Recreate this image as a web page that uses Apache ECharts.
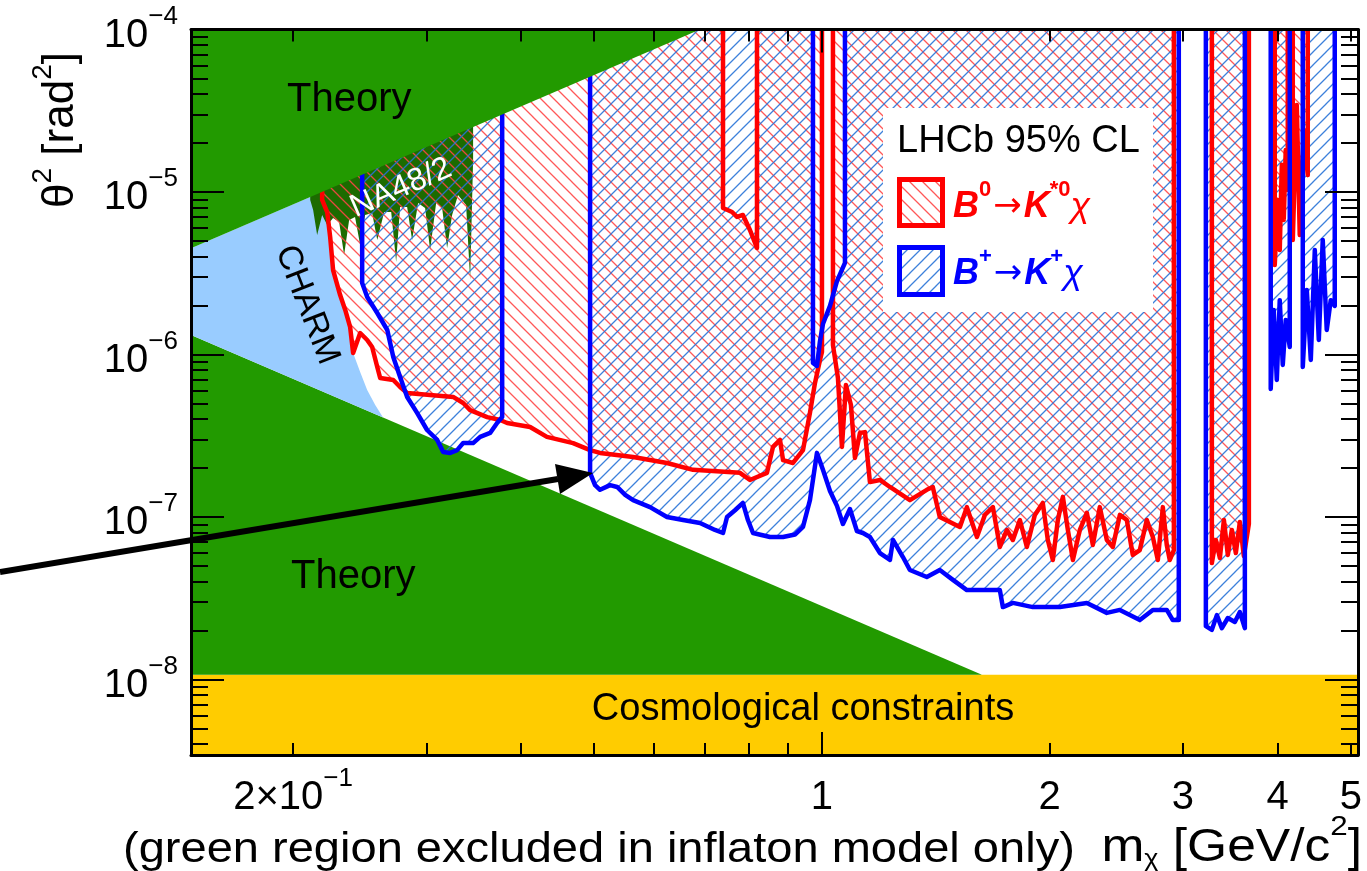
<!DOCTYPE html>
<html>
<head>
<meta charset="utf-8">
<title>LHCb B -> K chi limits</title>
<script src="https://cdn.jsdelivr.net/npm/echarts@6.0.0/dist/echarts.min.js"></script>
<style>
html,body{margin:0;padding:0;background:#ffffff;}
#chart{width:1367px;height:871px;}
</style>
</head>
<body>
<div id="chart"></div>
<script>
// ---------------- axes (m in GeV/c^2, theta^2 in rad^2) ----------------
const X_RANGE = [0.1466, 5.11];
const Y_RANGE = [3.43e-9, 1e-4];
const X_LABEL_VALUES = [0.2, 1, 2, 3, 4, 5];
const X_MAJOR_TICKS = [1];
const X_MINOR_TICKS = [0.2, 0.3, 0.4, 0.5, 0.6, 0.7, 0.8, 0.9, 2, 3, 4, 5];
const Y_LABEL_VALUES = [1e-4, 1e-5, 1e-6, 1e-7, 1e-8];
const Y_MINOR_TICKS = [
  4e-9, 5e-9, 6e-9, 7e-9, 8e-9, 9e-9,
  2e-8, 3e-8, 4e-8, 5e-8, 6e-8, 7e-8, 8e-8, 9e-8,
  2e-7, 3e-7, 4e-7, 5e-7, 6e-7, 7e-7, 8e-7, 9e-7,
  2e-6, 3e-6, 4e-6, 5e-6, 6e-6, 7e-6, 8e-6, 9e-6,
  2e-5, 3e-5, 4e-5, 5e-5, 6e-5, 7e-5, 8e-5, 9e-5
];

// ---------------- regions: [m, theta^2] vertices ----------------
const COSMO_BAND = [[0.1466, 3.43e-9], [5.11, 3.43e-9], [5.11, 1.07e-8], [0.1466, 1.07e-8]];
const THEORY_UPPER = [[0.1466, 4.51e-6], [0.69, 1e-4], [0.1466, 1e-4]];
const THEORY_LOWER = [[0.1466, 1.07e-8], [0.1466, 1.317e-6], [1.627, 1.07e-8]];
const CHARM = [
  [0.1466, 4.51e-6], [0.2159, 9.79e-6], [0.2185, 8.93e-6], [0.2219, 7.53e-6], [0.2239, 5.28e-6],
  [0.2259, 3.31e-6], [0.2308, 2.32e-6], [0.2344, 1.88e-6], [0.2379, 1.48e-6], [0.2401, 1.02e-6],
  [0.2453, 7.80e-7], [0.2506, 6.05e-7], [0.2568, 4.89e-7], [0.2630, 4.09e-7], [0.1466, 1.317e-6]
];
const NA48 = [
  [0.2107, 1e-4], [0.3459, 1e-4], [0.3459, 1.574e-5], [0.3428, 2.87e-6], [0.3386, 8.32e-6],
  [0.3304, 9.58e-6], [0.3245, 7.22e-6], [0.3196, 4.52e-6], [0.3148, 7.97e-6], [0.3091, 8.55e-6],
  [0.3035, 4.39e-6], [0.2989, 7.97e-6], [0.2926, 8.55e-6], [0.2873, 5.07e-6], [0.2830, 8.08e-6],
  [0.2770, 8.08e-6], [0.2737, 3.71e-6], [0.2696, 7.53e-6], [0.2639, 7.53e-6], [0.2584, 5.07e-6],
  [0.2544, 7.43e-6], [0.2490, 7.22e-6], [0.2453, 4.72e-6], [0.2415, 7.02e-6], [0.2372, 6.73e-6],
  [0.2336, 4.10e-6], [0.2301, 6.54e-6], [0.2259, 6.92e-6], [0.2219, 6.26e-6], [0.2185, 7.22e-6],
  [0.2152, 5.44e-6], [0.2126, 7.75e-6], [0.2107, 8.93e-6]
];
// B0 -> K*0 chi excluded region (closed outline; edges lying on the top frame are not stroked)
const RED_REGION = [
  [0.2185, 1e-4], [0.2185, 9.86e-6], [0.2185, 8.93e-6], [0.2219, 7.53e-6], [0.2239, 5.28e-6],
  [0.2259, 3.31e-6], [0.2308, 2.32e-6], [0.2344, 1.88e-6], [0.2379, 1.48e-6], [0.2401, 1.02e-6],
  [0.2453, 1.356e-6], [0.2506, 1.228e-6], [0.2544, 1.112e-6], [0.2584, 8.38e-7], [0.2607, 7.17e-7],
  [0.2713, 6.97e-7], [0.2770, 6.31e-7], [0.2830, 5.80e-7], [0.3255, 5.48e-7], [0.3356, 5.03e-7],
  [0.3428, 4.55e-7], [0.3610, 4.12e-7], [0.3756, 3.95e-7], [0.3837, 3.79e-7], [0.4114, 3.58e-7],
  [0.4330, 3.11e-7], [0.4689, 2.85e-7], [0.4938, 2.58e-7], [0.5090, 2.48e-7], [0.5629, 2.34e-7],
  [0.6240, 2.15e-7], [0.6756, 1.95e-7], [0.7792, 1.87e-7], [0.8032, 1.69e-7], [0.8459, 1.87e-7],
  [0.8615, 2.70e-7], [0.8801, 2.98e-7], [0.8883, 2.24e-7], [0.9156, 2.15e-7], [0.9439, 2.58e-7],
  [0.9641, 4.37e-7], [0.9790, 6.68e-7], [0.9940, 9.25e-7], [1.0, 1.036e-6], [1.0, 1e-4],
  [1.034, 1e-4], [1.034, 1.144e-6], [1.0498, 7.17e-7], [1.0627, 2.70e-7], [1.0757, 6.49e-7],
  [1.0922, 4.89e-7], [1.1056, 2.31e-7], [1.1225, 3.29e-7], [1.1398, 3.33e-7], [1.1571, 1.64e-7],
  [1.1929, 1.69e-7], [1.2299, 1.53e-7], [1.3068, 1.27e-7], [1.3758, 1.47e-7], [1.4011, 1.53e-7],
  [1.4313, 1.0e-7], [1.5216, 8.68e-8], [1.5542, 1.15e-7], [1.6025, 7.53e-8], [1.6418, 1.03e-7],
  [1.6823, 1.15e-7], [1.7183, 6.54e-8], [1.7554, 8.32e-8], [1.7877, 7.22e-8], [1.8263, 9.58e-8],
  [1.8655, 6.54e-8], [1.9114, 1.03e-7], [1.9582, 1.22e-7], [1.9883, 7.22e-8], [2.0190, 5.44e-8],
  [2.0500, 9.58e-8], [2.0815, 1.33e-7], [2.1135, 8.32e-8], [2.1459, 5.44e-8], [2.1919, 8.32e-8],
  [2.2392, 1.06e-7], [2.2803, 6.73e-8], [2.3291, 1.15e-7], [2.3795, 7.22e-8], [2.4232, 6.54e-8],
  [2.4757, 1.03e-7], [2.5287, 9.58e-8], [2.5751, 5.84e-8], [2.6308, 6.26e-8], [2.6872, 9.58e-8],
  [2.7370, 7.53e-8], [2.7790, 5.44e-8], [2.8216, 1.15e-7], [2.8556, 6.73e-8], [2.8819, 5.44e-8],
  [2.918, 6.26e-8], [2.918, 1e-4],
  [3.2754, 1e-4], [3.2754, 5.21e-8], [3.3156, 7.22e-8], [3.3564, 5.59e-8], [3.3977, 9.58e-8],
  [3.4387, 5.84e-8], [3.4808, 8.32e-8], [3.5235, 6.0e-8], [3.5667, 9.31e-8], [3.6105, 5.75e-8],
  [3.666, 9.06e-8], [3.666, 1e-4],
  [3.9664, 1e-4], [3.9664, 3.55e-6], [4.0032, 8.93e-6], [4.0272, 4.39e-6], [4.0524, 1.47e-5],
  [4.0766, 6.73e-6], [4.1012, 1.81e-5], [4.1268, 1.03e-5], [4.1268, 1e-4],
  [4.1901, 1e-4], [4.1901, 5.07e-6], [4.2416, 3.43e-5], [4.2799, 5.44e-6], [4.3325, 2.41e-5],
  [4.3857, 1.27e-5], [4.3857, 1e-4],
  [0.8206, 1e-4], [0.8206, 4.52e-6], [0.8032, 5.84e-6], [0.7862, 7.22e-6], [0.7722, 7.02e-6],
  [0.7606, 7.53e-6], [0.7400, 7.97e-6], [0.7400, 1e-4]
];
// B+ -> K+ chi excluded region
const BLUE_REGION = [
  [0.2468, 1e-4], [0.2468, 2.75e-6], [0.2506, 2.26e-6], [0.2584, 1.80e-6], [0.2664, 1.415e-6],
  [0.2713, 9.65e-7], [0.2770, 7.27e-7], [0.2830, 5.48e-7], [0.2917, 4.37e-7], [0.3007, 3.43e-7],
  [0.3101, 2.98e-7], [0.3158, 2.51e-7], [0.3226, 2.48e-7], [0.3295, 2.58e-7], [0.3356, 2.85e-7],
  [0.3459, 2.85e-7], [0.3534, 3.11e-7], [0.3643, 3.29e-7], [0.3721, 3.79e-7], [0.3779, 4.12e-7],
  [0.3779, 1e-4],
  [0.4938, 1e-4], [0.4938, 1.87e-7], [0.5013, 1.57e-7], [0.5090, 1.47e-7], [0.5248, 1.57e-7],
  [0.5362, 1.53e-7], [0.5495, 1.37e-7], [0.5629, 1.27e-7], [0.5926, 1.15e-7], [0.6240, 1.0e-7],
  [0.6553, 9.58e-8], [0.6900, 9.19e-8], [0.7222, 8.32e-8], [0.7400, 7.97e-8], [0.7491, 1.0e-7],
  [0.7675, 1.10e-7], [0.7862, 1.22e-7], [0.7983, 9.58e-8], [0.8107, 7.97e-8], [0.8537, 7.53e-8],
  [0.8883, 7.53e-8], [0.9211, 7.80e-8], [0.9439, 8.68e-8], [0.9641, 1.27e-7], [0.9849, 2.48e-7],
  [1.0030, 1.95e-7], [1.0247, 1.445e-7], [1.0467, 1.17e-7], [1.0659, 9.06e-8], [1.0889, 1.12e-7],
  [1.1122, 8.20e-8], [1.1328, 7.97e-8], [1.1571, 7.53e-8], [1.1929, 6.0e-8], [1.2299, 5.44e-8],
  [1.2412, 7.22e-8], [1.2794, 5.67e-8], [1.3068, 4.72e-8], [1.3758, 4.27e-8], [1.4313, 4.72e-8],
  [1.4897, 4.10e-8], [1.5542, 3.55e-8], [1.6520, 3.55e-8], [1.7183, 3.55e-8], [1.7342, 2.79e-8],
  [1.7877, 2.96e-8], [1.8998, 2.79e-8], [2.0624, 2.79e-8], [2.2392, 2.96e-8], [2.3795, 2.57e-8],
  [2.4757, 2.68e-8], [2.6308, 2.32e-8], [2.7370, 2.68e-8], [2.8556, 2.68e-8], [2.9086, 2.32e-8],
  [2.962, 2.32e-8], [2.962, 1e-4],
  [3.2163, 1e-4], [3.2163, 2.13e-8], [3.2754, 2.02e-8], [3.3257, 2.49e-8], [3.3768, 2.07e-8],
  [3.4387, 2.39e-8], [3.5129, 2.26e-8], [3.5667, 2.60e-8], [3.6215, 2.07e-8], [3.6215, 1e-4],
  [3.9181, 1e-4], [3.9181, 6.13e-7], [3.9544, 1.88e-6], [3.9912, 6.97e-7], [4.0272, 2.16e-6],
  [4.0644, 8.62e-7], [4.1012, 1.63e-6], [4.1517, 1.112e-6], [4.1517, 1e-4],
  [4.3195, 1e-4], [4.3195, 8.38e-7], [4.3726, 2.49e-6], [4.4262, 9.25e-7], [4.4805, 4.39e-6],
  [4.5355, 1.228e-6], [4.5901, 5.07e-6], [4.6464, 1.415e-6], [4.7034, 2.16e-6], [4.7610, 1.99e-6],
  [4.7610, 1e-4],
  [1.0725, 1e-4], [1.0725, 3.66e-6], [1.0467, 2.83e-6], [1.0247, 1.99e-6], [1.0030, 1.54e-6],
  [0.9940, 1.21e-6], [0.9849, 8.50e-7], [0.9730, 8.87e-7], [0.9730, 1e-4]
];

// ---------------- styling ----------------
const FONT = '"Liberation Sans", Arial, Helvetica, sans-serif';
const GREEN = '#229a00';
const RED = '#ff0000';
const BLUE = '#0000ff';

function hatch(color, dir) {
  const s = 13;
  const c = document.createElement('canvas');
  c.width = s; c.height = s;
  const g = c.getContext('2d');
  g.strokeStyle = color; g.lineWidth = 1.3;
  g.beginPath();
  if (dir === '/') {
    g.moveTo(-2, s + 2); g.lineTo(s + 2, -2);
    g.moveTo(-2, 2); g.lineTo(2, -2);
    g.moveTo(s - 2, s + 2); g.lineTo(s + 2, s - 2);
  } else {
    g.moveTo(-2, -2); g.lineTo(s + 2, s + 2);
    g.moveTo(s - 2, -2); g.lineTo(s + 2, 2);
    g.moveTo(-2, s - 2); g.lineTo(2, s + 2);
  }
  g.stroke();
  return { image: c, repeat: 'repeat' };
}
const RED_HATCH = hatch('rgba(255,70,70,0.9)', '\\');
const BLUE_HATCH = hatch('rgba(40,115,215,0.9)', '/');

const lg = Math.log10;
const toLog = pts => pts.map(p => [lg(p[0]), lg(p[1])]);
const TOP = lg(Y_RANGE[1]);

function areaSeries(id, pts, fill, z) {
  const data = toLog(pts);
  return {
    type: 'custom', id, z, silent: true, animation: false,
    xAxisIndex: 0, yAxisIndex: 0, data,
    renderItem(params, api) {
      if (params.dataIndex !== 0) return null;
      return { type: 'polygon', shape: { points: data.map(d => api.coord(d)) }, style: { fill, stroke: null } };
    }
  };
}
function boundarySeries(id, pts, color, z) {
  const data = toLog(pts);
  return {
    type: 'custom', id, z, silent: true, animation: false,
    xAxisIndex: 0, yAxisIndex: 0, data,
    renderItem(params, api) {
      if (params.dataIndex !== 0) return null;
      const lines = []; let cur = [];
      const n = data.length;
      for (let i = 0; i < n; i++) {
        const a = data[i], b = data[(i + 1) % n];
        if (a[1] === TOP && b[1] === TOP) { if (cur.length > 1) lines.push(cur); cur = []; continue; }
        if (!cur.length) cur.push(api.coord(a));
        cur.push(api.coord(b));
      }
      if (cur.length > 1) lines.push(cur);
      return { type: 'group', children: lines.map(p => ({
        type: 'polyline', shape: { points: p },
        style: { stroke: color, lineWidth: 4.5, fill: null, lineJoin: 'round' }
      })) };
    }
  };
}

const RICH_TICK = {
  b: { fontSize: 40, fontFamily: FONT, color: '#000', padding: [12, 0, 0, 0] },
  s: { fontSize: 26, fontFamily: FONT, color: '#000', verticalAlign: 'top' }
};
const fmtX = v => {
  const m = Math.pow(10, v);
  if (Math.abs(m - 0.2) < 1e-6) return '{b|2×10}{s|−1}';
  return '{b|' + Math.round(m) + '}';
};
const fmtY = v => '{b|10}{s|−' + Math.round(-v) + '}';

const TICK_STYLE = { color: '#000', width: 2 };
function axis(position, ext, extra) {
  return Object.assign({
    type: 'value', gridIndex: 0, position, min: ext[0], max: ext[1], z: 10,
    splitLine: { show: false },
    axisLine: { show: false, onZero: false },
    axisTick: { show: false },
    axisLabel: { show: false }
  }, extra);
}
const XE = [lg(X_RANGE[0]), lg(X_RANGE[1])];
const YE = [lg(Y_RANGE[0]), lg(Y_RANGE[1])];
const LINE = { show: true, onZero: false, lineStyle: { color: '#000', width: 3 } };
const ticks = (vals, len) => ({ show: true, inside: true, length: len, customValues: vals.map(lg), lineStyle: TICK_STYLE });

function txt(x, y, text, o) {
  o = o || {};
  const al = o.align || 'left', va = o.va || 'middle';
  const el = {
    type: 'text', x, y, z: 100, silent: true,
    style: Object.assign({
      text, fill: o.fill || '#000', fontFamily: FONT, fontSize: o.size || 38,
      fontWeight: o.weight || 'normal', fontStyle: o.style || 'normal',
      align: al, verticalAlign: va, textAlign: al, textVerticalAlign: va
    }, o.rich ? { rich: o.rich } : {})
  };
  if (o.rotation) el.rotation = o.rotation;
  if (o.scaleX) el.scaleX = o.scaleX;
  return el;
}

const legendRich = (color) => ({
  b: { fontSize: 36, fontFamily: FONT, fontStyle: 'italic', fontWeight: 'bold', fill: color, color, padding: [10, 0, 0, 0] },
  s: { fontSize: 22, fontFamily: FONT, fontWeight: 'bold', fill: color, color, verticalAlign: 'top' },
  a: { fontSize: 34, fontFamily: '"DejaVu Sans", sans-serif', fill: color, color, padding: [10, 2, 0, 2] },
  c: { fontSize: 36, fontFamily: FONT, fontStyle: 'italic', fill: color, color, padding: [10, 0, 0, 0] }
});

const option = {
  backgroundColor: '#ffffff',
  animation: false,
  grid: { left: 191, right: 9, top: 29.5, bottom: 116, outerBoundsMode: 'none', containLabel: false },
  xAxis: [
    axis('bottom', XE, { axisLine: LINE, axisTick: ticks(X_MINOR_TICKS, 12),
      axisLabel: { show: true, customValues: X_LABEL_VALUES.map(lg), margin: 11, formatter: fmtX, rich: RICH_TICK } }),
    axis('bottom', XE, { axisTick: ticks(X_MAJOR_TICKS, 23) }),
    axis('top', XE, { axisLine: LINE, axisTick: ticks(X_MINOR_TICKS, 12) }),
    axis('top', XE, { axisTick: ticks(X_MAJOR_TICKS, 23) })
  ],
  yAxis: [
    axis('left', YE, { axisLine: LINE, axisTick: ticks(Y_LABEL_VALUES, 33),
      axisLabel: { show: true, customValues: Y_LABEL_VALUES.map(lg), margin: 13, formatter: fmtY, rich: RICH_TICK } }),
    axis('left', YE, { axisTick: ticks(Y_MINOR_TICKS, 17) }),
    axis('right', YE, { axisLine: LINE, axisTick: ticks(Y_LABEL_VALUES, 33) }),
    axis('right', YE, { axisTick: ticks(Y_MINOR_TICKS, 17) })
  ],
  series: [
    areaSeries('cosmo', COSMO_BAND, '#ffcc00', 1),
    areaSeries('theoryLower', THEORY_LOWER, GREEN, 1),
    areaSeries('charm', CHARM, '#99ccff', 1),
    areaSeries('na48', NA48, '#1c6b00', 2),
    areaSeries('redFill', RED_REGION, RED_HATCH, 3),
    areaSeries('blueFill', BLUE_REGION, BLUE_HATCH, 3),
    boundarySeries('redLine', RED_REGION, RED, 4),
    boundarySeries('blueLine', BLUE_REGION, BLUE, 4),
    areaSeries('theoryUpper', THEORY_UPPER, GREEN, 5)
  ],
  graphic: [
    txt(287, 100, 'Theory', { size: 40 }),
    txt(291, 577, 'Theory', { size: 40 }),
    txt(307, 305, 'CHARM', { size: 34, align: 'center', rotation: -1.2 }),
    txt(401, 188, 'NA48/2', { size: 32, align: 'center', rotation: 0.41, fill: '#ffffff' }),
    txt(803, 710, 'Cosmological constraints', { size: 38, align: 'center' }),
    // legend
    { type: 'rect', z: 99, silent: true, shape: { x: 883, y: 108, width: 270, height: 204 }, style: { fill: '#ffffff' } },
    txt(897, 142, 'LHCb 95% CL', { size: 38 }),
    { type: 'rect', z: 100, silent: true, shape: { x: 899.5, y: 179.5, width: 43, height: 46 },
      style: { fill: RED_HATCH, stroke: RED, lineWidth: 5 } },
    { type: 'rect', z: 100, silent: true, shape: { x: 899.5, y: 247.5, width: 43, height: 47 },
      style: { fill: BLUE_HATCH, stroke: BLUE, lineWidth: 5 } },
    txt(953, 202, '{b|B}{s|0}{a|→}{b|K}{s|*0}{c|χ}', { rich: legendRich(RED), fill: RED }),
    txt(953, 269, '{b|B}{s|+}{a|→}{b|K}{s|+}{c|χ}', { rich: legendRich(BLUE), fill: BLUE }),
    // axis titles and annotations
    txt(56, 130, '{a|θ}{s|2}{a| [rad}{s|2}{a|]}', { align: 'center', rotation: Math.PI / 2, rich: {
      a: { fontSize: 44, fontFamily: FONT, fill: '#000', padding: [10, 0, 0, 0] },
      s: { fontSize: 28, fontFamily: FONT, fill: '#000', verticalAlign: 'top' } } }),
    txt(1362, 842, '{a|m}{sub|χ}{a| [GeV/c}{sup|2}{a|]}', { align: 'right', scaleX: 1.12, rich: {
      a: { fontSize: 46, fontFamily: FONT, fill: '#000', padding: [12, 0, 0, 0] },
      sub: { fontSize: 24, fontFamily: FONT, fill: '#000', verticalAlign: 'bottom' },
      sup: { fontSize: 28, fontFamily: FONT, fill: '#000', verticalAlign: 'top' } } }),
    txt(123, 850, '(green region excluded in inflaton model only)', { size: 42, scaleX: 1.12 }),
    // arrow
    { type: 'line', z: 110, silent: true, shape: { x1: 0, y1: 572, x2: 558, y2: 479 },
      style: { stroke: '#000', lineWidth: 6 } },
    { type: 'polygon', z: 110, silent: true, shape: { points: [[593, 473], [555, 464], [560, 494]] },
      style: { fill: '#000' } }
  ]
};

const chart = echarts.init(document.getElementById('chart'), null, { renderer: 'canvas' });
chart.setOption(option);
</script>
</body>
</html>
